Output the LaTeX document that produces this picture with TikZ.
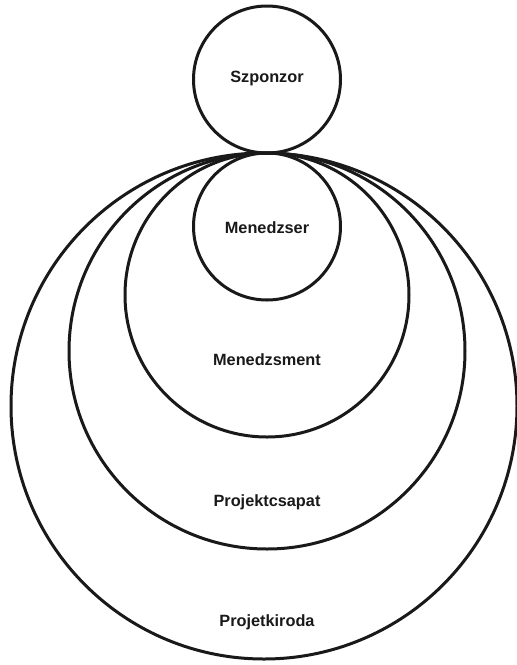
\documentclass[tikz,border=0pt]{standalone}
\usepackage{fontspec}
\setmainfont{Liberation Sans}
\begin{document}
\begin{tikzpicture}[x=1pt,y=-1pt,
  ring/.style={draw=black!90, line width=3pt},
  lbl/.style={font=\bfseries\fontsize{16.3}{19}\selectfont, text=black!90, inner sep=0pt}]
\useasboundingbox (0,0) rectangle (517,665);
% nested circles, all touching at the top point (267,153)
\draw[ring] (264,406) circle (253);
\draw[ring] (267,351) circle (198);
\draw[ring] (267,295) circle (142);
\draw[ring] (267,226.5) circle (73.5);
% sponsor circle sitting on top
\draw[ring] (267,79.5) circle (73.5);
% labels
\node[lbl] (szp) at (267,78) {Szponzor};
\node[lbl] (men) at (267,228) {Menedzser};
\node[lbl] (mgt) at (267,360) {Menedzsment};
\node[lbl] (csp) at (267,502) {Projektcsapat};
\node[lbl] (iro) at (267,622) {Projetkiroda};
\end{tikzpicture}
\end{document}
